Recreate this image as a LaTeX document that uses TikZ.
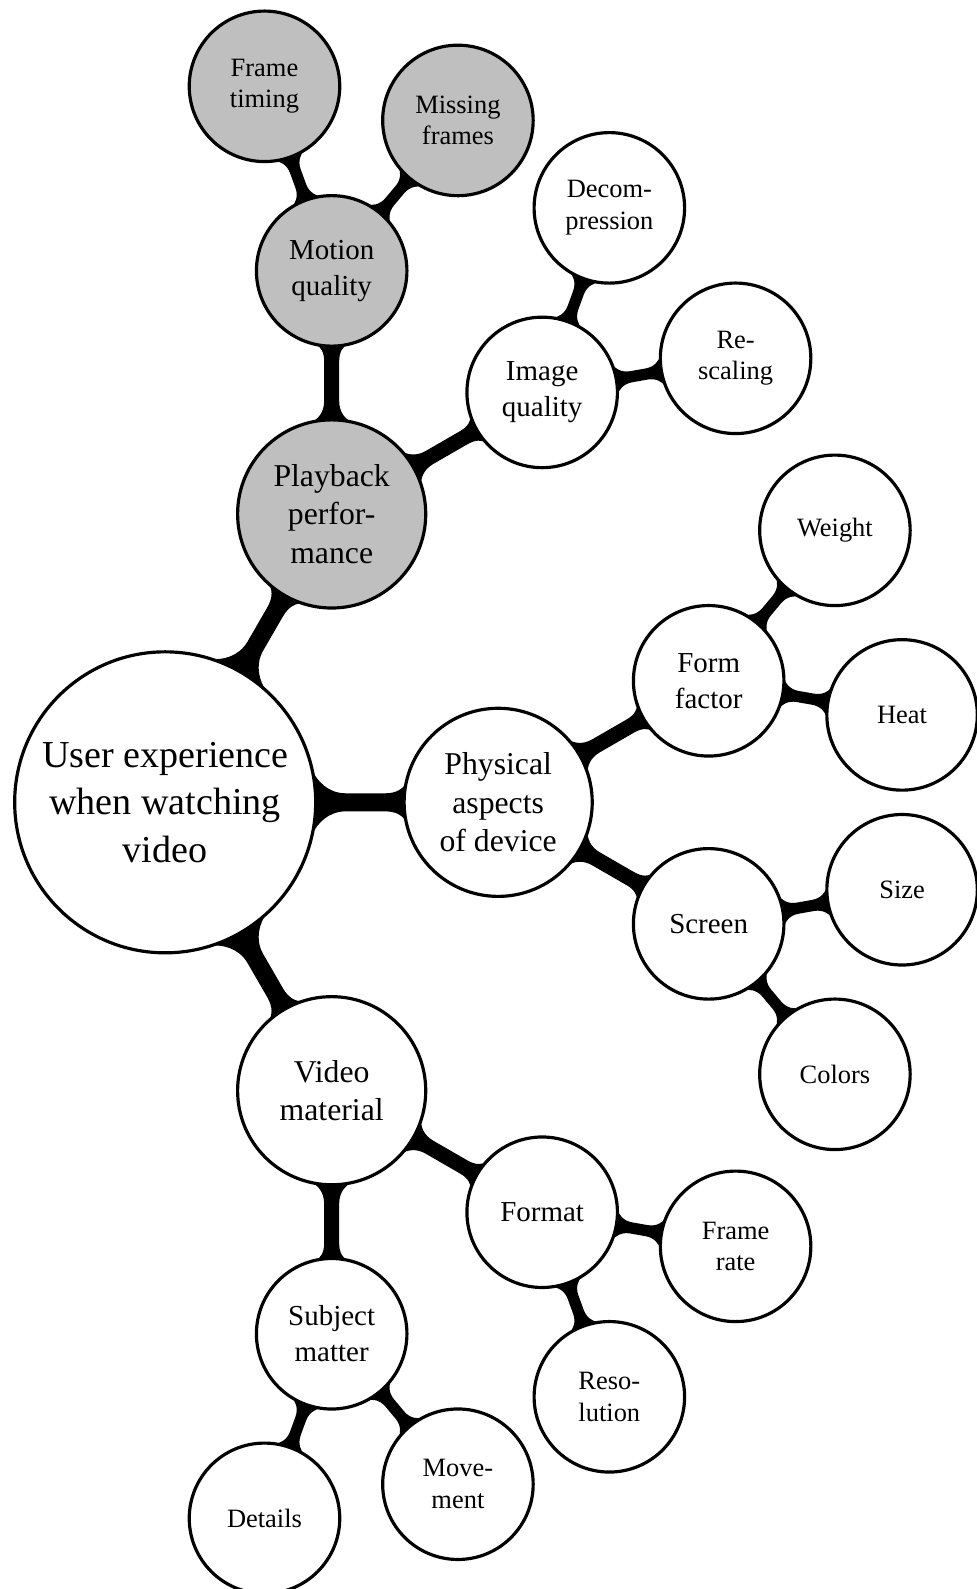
\documentclass[tikz,border=0pt,12pt]{standalone}
\usepackage{fontspec}
\setmainfont{Liberation Serif}
\usetikzlibrary{calc,backgrounds}

\tikzset{
  bubble/.style={circle, draw=black, line width=1.2pt, fill=white, text=black,
                 inner sep=0pt, align=center},
  rootbubble/.style={bubble, minimum size=4cm, font=\fontsize{14.4}{18}\selectfont},
  onebubble/.style={bubble, minimum size=2.5cm, font=\fontsize{12}{14.5}\selectfont},
  twobubble/.style={bubble, minimum size=2cm, font=\fontsize{10.95}{13.6}\selectfont},
  threebubble/.style={bubble, minimum size=2cm, font=\fontsize{10}{12}\selectfont},
  greyfill/.style={fill=black!25},
}

% black bar with flared ends between two circular nodes
% #1, #2: node names; #3, #4: their radii (cm); #5: half width of the bar (cm)
\newcommand\joinbar[5]{%
  \fill let \p1=($(#2.center)-(#1.center)$), \n1={atan2(\y1,\x1)} in
    ($(#1.center)+(\n1+12:#3)$)
    .. controls ($(#1.center)+(\n1+12:#3)+(\n1-63:0.07*#3)$)
           and ($(#1.center)+(\n1:1.08*#3)+(\n1+90:#5)$) ..
    ($(#1.center)+(\n1:1.2*#3)+(\n1+90:#5)$)
    -- ($(#2.center)+(\n1+180:1.2*#4)+(\n1+90:#5)$)
    .. controls ($(#2.center)+(\n1+180:1.08*#4)+(\n1+90:#5)$)
           and ($(#2.center)+(\n1+168:#4)+(\n1+243:0.07*#4)$) ..
    ($(#2.center)+(\n1+168:#4)$)
    -- ($(#2.center)+(\n1+192:#4)$)
    .. controls ($(#2.center)+(\n1+192:#4)+(\n1+117:0.07*#4)$)
           and ($(#2.center)+(\n1+180:1.08*#4)+(\n1-90:#5)$) ..
    ($(#2.center)+(\n1+180:1.2*#4)+(\n1-90:#5)$)
    -- ($(#1.center)+(\n1:1.2*#3)+(\n1-90:#5)$)
    .. controls ($(#1.center)+(\n1:1.08*#3)+(\n1-90:#5)$)
           and ($(#1.center)+(\n1-12:#3)+(\n1+63:0.07*#3)$) ..
    ($(#1.center)+(\n1-12:#3)$)
    -- cycle;
}

\begin{document}
\begin{tikzpicture}
\useasboundingbox (0,0) rectangle (12.983,-21.116);

% centre
\node[rootbubble] (root) at (2.195,-10.662) {User experience\\when watching\\video};

% first ring
\node[onebubble, greyfill] (play)  at ([shift={(60:4.425)}]root.center)  {Playback\\perfor-\\mance};
\node[onebubble]           (phys)  at ([shift={(0:4.425)}]root.center)   {Physical\\aspects\\of device};
\node[onebubble]           (video) at ([shift={(-60:4.425)}]root.center) {Video\\material};

% second ring
\node[twobubble, greyfill] (motion) at ([shift={(90:3.23)}]play.center)   {Motion\\quality};
\node[twobubble]           (imgq)   at ([shift={(30:3.23)}]play.center)   {Image\\quality};
\node[twobubble]           (form)   at ([shift={(30:3.23)}]phys.center)   {Form\\factor};
\node[twobubble]           (screen) at ([shift={(-30:3.23)}]phys.center)  {Screen};
\node[twobubble]           (fmt)    at ([shift={(-30:3.23)}]video.center) {Format};
\node[twobubble]           (subj)   at ([shift={(-90:3.23)}]video.center) {Subject\\matter};

% third ring
\node[threebubble, greyfill] (ftime)   at ([shift={(110:2.61)}]motion.center) {Frame\\timing};
\node[threebubble, greyfill] (missing) at ([shift={(50:2.61)}]motion.center)  {Missing\\frames};
\node[threebubble] (decomp)  at ([shift={(70:2.61)}]imgq.center)   {Decom-\\pression};
\node[threebubble] (rescale) at ([shift={(10:2.61)}]imgq.center)   {Re-\\scaling};
\node[threebubble] (weight)  at ([shift={(50:2.61)}]form.center)   {Weight};
\node[threebubble] (heat)    at ([shift={(-10:2.61)}]form.center)  {Heat};
\node[threebubble] (size)    at ([shift={(10:2.61)}]screen.center) {Size};
\node[threebubble] (colors)  at ([shift={(-50:2.61)}]screen.center) {Colors};
\node[threebubble] (frate)   at ([shift={(-10:2.61)}]fmt.center)   {Frame\\rate};
\node[threebubble] (reso)    at ([shift={(-70:2.61)}]fmt.center)   {Reso-\\lution};
\node[threebubble] (details) at ([shift={(-110:2.61)}]subj.center) {Details};
\node[threebubble] (move)    at ([shift={(-50:2.61)}]subj.center)  {Move-\\ment};

% connection bars, behind the bubbles
\begin{scope}[on background layer]
  \joinbar{root}{play}{2}{1.25}{0.12}
  \joinbar{root}{phys}{2}{1.25}{0.12}
  \joinbar{root}{video}{2}{1.25}{0.12}
  \joinbar{play}{motion}{1.25}{1}{0.1}
  \joinbar{play}{imgq}{1.25}{1}{0.1}
  \joinbar{phys}{form}{1.25}{1}{0.1}
  \joinbar{phys}{screen}{1.25}{1}{0.1}
  \joinbar{video}{fmt}{1.25}{1}{0.1}
  \joinbar{video}{subj}{1.25}{1}{0.1}
  \joinbar{motion}{ftime}{1}{1}{0.075}
  \joinbar{motion}{missing}{1}{1}{0.075}
  \joinbar{imgq}{decomp}{1}{1}{0.075}
  \joinbar{imgq}{rescale}{1}{1}{0.075}
  \joinbar{form}{weight}{1}{1}{0.075}
  \joinbar{form}{heat}{1}{1}{0.075}
  \joinbar{screen}{size}{1}{1}{0.075}
  \joinbar{screen}{colors}{1}{1}{0.075}
  \joinbar{fmt}{frate}{1}{1}{0.075}
  \joinbar{fmt}{reso}{1}{1}{0.075}
  \joinbar{subj}{details}{1}{1}{0.075}
  \joinbar{subj}{move}{1}{1}{0.075}
\end{scope}
\end{tikzpicture}
\end{document}
